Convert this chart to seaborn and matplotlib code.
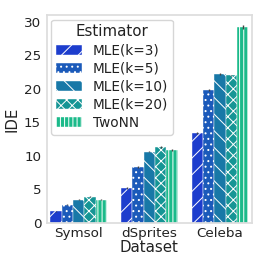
import matplotlib

matplotlib.use("Agg")

import matplotlib.pyplot as plt
import pandas as pd
import seaborn as sns

datasets = ["Symsol", "dSprites", "Celeba"]
estimators = ["MLE(k=3)", "MLE(k=5)", "MLE(k=10)", "MLE(k=20)", "TwoNN"]

# IDE per estimator, one value per dataset
ide_values = {
    "MLE(k=3)": [1.7, 5.2, 13.4],
    "MLE(k=5)": [2.7, 8.3, 19.8],
    "MLE(k=10)": [3.4, 10.6, 22.2],
    "MLE(k=20)": [3.9, 11.3, 22.0],
    "TwoNN": [3.4, 10.9, 29.3],
}
ide_errors = {
    "MLE(k=3)": [0.08, 0.1, 0.15],
    "MLE(k=5)": [0.08, 0.12, 0.15],
    "MLE(k=10)": [0.08, 0.1, 0.12],
    "MLE(k=20)": [0.08, 0.12, 0.12],
    "TwoNN": [0.08, 0.12, 0.3],
}
hatches = ["//", "...", "\\\\", "xxx", "||||"]

sns.set_theme(style="white")
plt.rcParams["hatch.linewidth"] = 0.7
plt.rcParams["hatch.color"] = "white"
plt.rcParams["text.color"] = "#222222"
plt.rcParams["axes.labelcolor"] = "#222222"
plt.rcParams["xtick.color"] = "#222222"
plt.rcParams["ytick.color"] = "#222222"

df = pd.DataFrame(
    [
        {"Dataset": d, "Estimator": e, "IDE": ide_values[e][i], "err": ide_errors[e][i]}
        for e in estimators
        for i, d in enumerate(datasets)
    ]
)

fig = plt.figure(figsize=(2.67, 2.67), dpi=100)
ax = fig.add_axes([0.175, 0.166, 0.768, 0.778])

sns.barplot(
    data=df,
    x="Dataset",
    y="IDE",
    hue="Estimator",
    order=datasets,
    hue_order=estimators,
    palette="winter",
    errorbar=None,
    edgecolor="white",
    linewidth=0.3,
    ax=ax,
)

for container, est, hatch in zip(ax.containers, estimators, hatches):
    xs = []
    for bar in container:
        bar.set_hatch(hatch)
        xs.append(bar.get_x() + bar.get_width() / 2)
    ax.errorbar(
        xs, ide_values[est], yerr=ide_errors[est],
        fmt="none", ecolor="#444444", elinewidth=1.0, capsize=0,
    )

handles, labels = ax.get_legend_handles_labels()
for h, hatch in zip(handles, hatches):
    h.set_hatch(hatch)
ax.legend(
    handles, labels, title="Estimator", loc="upper left",
    fontsize=9.8, title_fontsize=10.8, frameon=True,
    handlelength=1.9, borderaxespad=0.35, labelspacing=0.3,
    handletextpad=0.8, borderpad=0.35,
)

ax.set_xlim(-0.45, 2.45)
ax.set_ylim(0, 31.05)
ax.set_yticks([0, 5, 10, 15, 20, 25, 30])
ax.set_xlabel("Dataset", fontsize=10.8, labelpad=0)
ax.set_ylabel("IDE", fontsize=10.8, labelpad=3)
ax.tick_params(axis="x", labelsize=9.7, length=0, pad=3)
ax.tick_params(axis="y", labelsize=9.7, length=0, pad=4)
for spine in ax.spines.values():
    spine.set_color("#dddddd")

fig.savefig("out.png", dpi=100)
